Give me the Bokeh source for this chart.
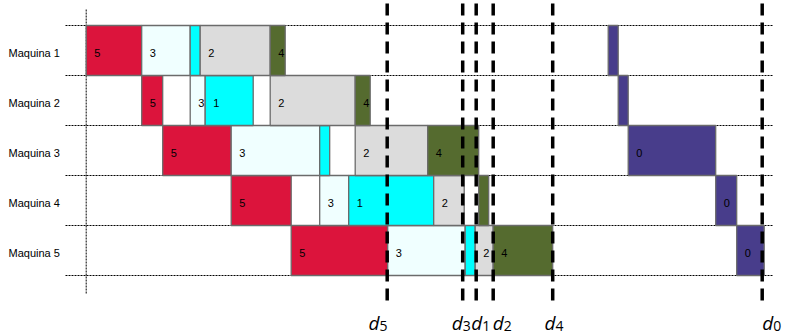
from bokeh.plotting import figure
from bokeh.models import Range1d, ColumnDataSource
from bokeh.core.properties import value
from bokeh.embed import file_html
from bokeh.resources import INLINE

# ---- data ----
machines = ["Maquina 1", "Maquina 2", "Maquina 3", "Maquina 4", "Maquina 5"]
jobs = [5, 3, 1, 2, 4, 0]
job_colors = {5: "#DC143C", 3: "#F0FFFF", 1: "#00FFFF", 2: "#DCDCDC", 4: "#556B2F", 0: "#483D8B"}

start_5 = [0, 55.5, 76.5, 145, 205]
end_5 = [55.5, 76.5, 145, 205, 301.5]
start_3 = [55.5, 104, 145, 233.5, 301.5]
end_3 = [104, 119, 233.5, 262.5, 379]
start_1 = [104, 119, 233.5, 262.5, 379]
end_1 = [114, 167, 243.5, 347.5, 389]
start_2 = [114, 184, 269, 347.5, 389]
end_2 = [184, 269, 341.5, 378, 407]
start_4 = [184, 269, 341.5, 392.5, 407]
end_4 = [199, 284, 392.5, 402.5, 466.5]
start_0 = [522, 532, 542, 629.5, 650.5]
end_0 = [532, 542, 629.5, 650.5, 678]

starts = {5: start_5, 3: start_3, 1: start_1, 2: start_2, 4: start_4, 0: start_0}
ends = {5: end_5, 3: end_3, 1: end_1, 2: end_2, 4: end_4, 0: end_0}

due_jobs = [5, 3, 1, 2, 4, 0]
due_dates = [301, 376.5, 390, 407, 466.5, 676]
# label placement (pixels, style only)
due_label_offsets = [-7.7, 0, 6, 10.6, 2.7, 11]

# ---- figure ----
W, H = 791, 336
X0 = 85.7  # pixel position of time 0
p = figure(width=W, height=H, output_backend="svg", toolbar_location=None,
           x_range=Range1d(-X0, W - X0), y_range=Range1d(H / 50, 0),
           min_border=0, min_border_left=0, min_border_right=0,
           min_border_top=0, min_border_bottom=0)
p.axis.visible = False
p.grid.visible = False
p.outline_line_color = None
p.background_fill_color = "white"
p.border_fill_color = "white"

nrows = len(machines)
# row separator dotted lines
sep_y = [i + 0.5 for i in range(nrows + 1)]
p.segment(x0=[-20.7] * len(sep_y), x1=[686.3] * len(sep_y), y0=sep_y, y1=sep_y,
          line_color="black", line_width=1, line_dash="2 1")
# vertical dotted axis line at t=0
p.segment(x0=[0], x1=[0], y0=[0.18], y1=[5.88], line_color="black", line_width=1, line_dash="2 1")

# bars
L, R, T, B, C, LX, LY, LT = [], [], [], [], [], [], [], []
for j in jobs:
    for m in range(nrows):
        s, e = starts[j][m], ends[j][m]
        row = m + 1
        L.append(s); R.append(e); T.append(row - 0.5); B.append(row + 0.5)
        C.append(job_colors[j])
        if e - s >= 12:
            LX.append(s); LY.append(row + 0.04); LT.append(str(j))

src = ColumnDataSource(dict(left=L, right=R, top=T, bottom=B, color=C))
p.quad(left="left", right="right", top="top", bottom="bottom", source=src,
       fill_color="color", line_color="#6b6b6b", line_width=1.3)

p.text(x=LX, y=LY, text=LT, x_offset=8, text_align="left", text_baseline="middle",
       text_font=value("Liberation Sans"), text_font_size="11px", text_color="black")

# machine labels
p.text(x=[-X0 + 8] * nrows, y=[i + 1 + 0.04 for i in range(nrows)], text=machines,
       text_align="left", text_baseline="middle",
       text_font=value("Liberation Sans"), text_font_size="11px", text_color="black")

# due date dashed lines
p.segment(x0=due_dates, x1=due_dates, y0=[0.06] * len(due_dates), y1=[6.06] * len(due_dates),
          line_color="black", line_width=3.5, line_dash="12 7")

# due date labels d_j
dx = [d + o for d, o in zip(due_dates, due_label_offsets)]
p.text(x=dx, y=[322 / 50] * len(dx), text=["d"] * len(dx), text_align="right",
       text_baseline="alphabetic", text_font=value("Open Sans"), text_font_style="italic",
       text_font_size="19px", text_color="black")
p.text(x=dx, y=[325.5 / 50] * len(dx), text=[str(j) for j in due_jobs], text_align="left",
       text_baseline="alphabetic", text_font=value("Open Sans"),
       text_font_size="14px", text_color="black")

open("out.html", "w").write(file_html(p, INLINE))
